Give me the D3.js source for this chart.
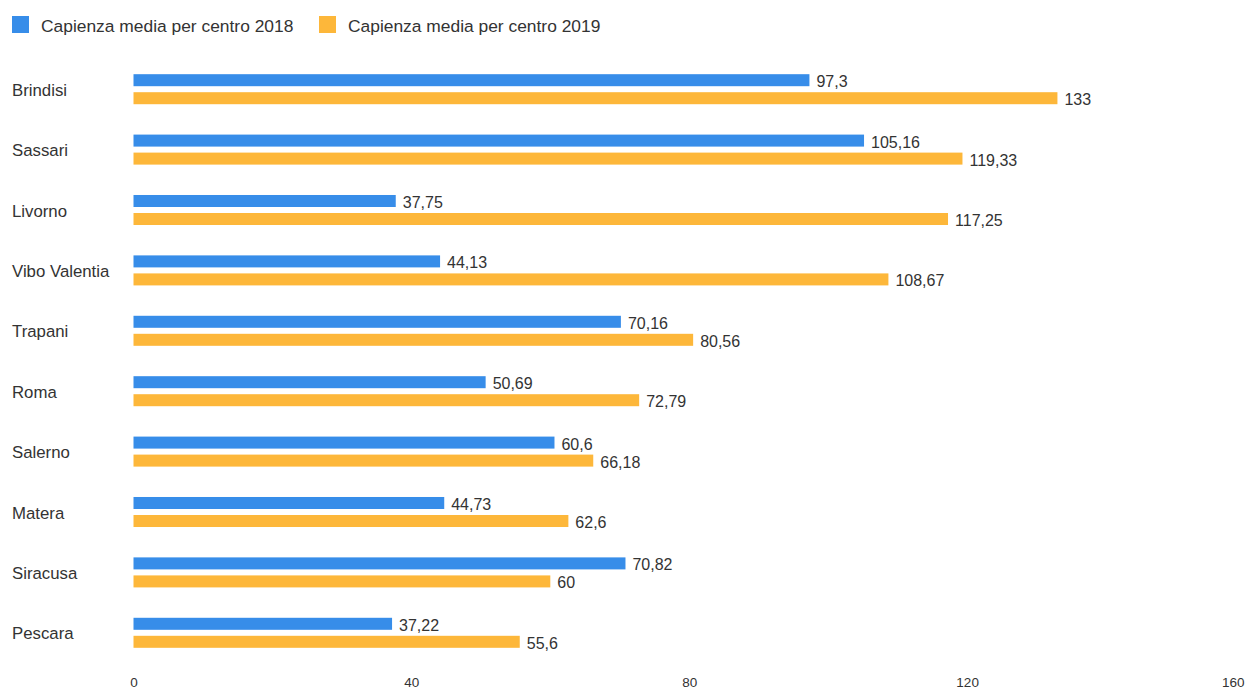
<script src="https://d3js.org/d3.v7.min.js"></script>
<style>
  body { margin: 0; background: #fff; }
  text { font-family: 'Liberation Sans', Arial, sans-serif; fill: #333; }
</style>
<div id="vis"></div>
<script>
  var cities = ['Brindisi', 'Sassari', 'Livorno', 'Vibo Valentia', 'Trapani', 'Roma', 'Salerno', 'Matera', 'Siracusa', 'Pescara'];
  var val2018 = [97.3, 105.16, 37.75, 44.13, 70.16, 50.69, 60.6, 44.73, 70.82, 37.22];
  var val2019 = [133, 119.33, 117.25, 108.67, 80.56, 72.79, 66.18, 62.6, 60, 55.6];
  var seriesNames = ['Capienza media per centro 2018', 'Capienza media per centro 2019'];
  var xTicks = [0, 40, 80, 120, 160];

  var colors = ['#378de9', '#fdb73a'];
  var W = 1245, H = 689;

  var svg = d3.select('#vis').append('svg')
    .attr('width', W).attr('height', H);

  var data = cities.map(function(c, i) {
    return { city: c, values: [val2018[i], val2019[i]] };
  });

  var x = d3.scaleLinear().domain([0, 160]).range([133.5, 1245]);

  var y = d3.scaleBand().domain(cities).range([59, 663])
    .paddingInner(0.503).paddingOuter(0.2515);

  var ySub = d3.scaleBand().domain([0, 1]).range([0, y.bandwidth()])
    .paddingInner(1 / 3);

  var fmt = function(v) { return String(v).replace('.', ','); };

  // legend
  var legend = svg.append('g');
  var legX = [12, 319];
  seriesNames.forEach(function(name, i) {
    legend.append('rect')
      .attr('x', legX[i]).attr('y', 16)
      .attr('width', 17).attr('height', 17)
      .style('fill', colors[i]);
    legend.append('text')
      .attr('x', legX[i] + 29).attr('y', 32)
      .style('font-size', '17.4px')
      .text(name);
  });

  // category labels
  svg.append('g').selectAll('text')
    .data(cities)
    .enter().append('text')
    .attr('x', 12)
    .attr('y', function(d) { return y(d) + y.bandwidth() / 2 + 6.5; })
    .style('font-size', '16.8px')
    .text(function(d) { return d; });

  var groups = svg.append('g').selectAll('g')
    .data(data)
    .enter().append('g')
    .attr('transform', function(d) { return 'translate(0,' + y(d.city) + ')'; });

  groups.selectAll('rect')
    .data(function(d) { return d.values; })
    .enter().append('rect')
    .attr('x', x(0))
    .attr('y', function(d, i) { return ySub(i); })
    .attr('width', function(d) { return x(d) - x(0); })
    .attr('height', ySub.bandwidth())
    .style('fill', function(d, i) { return colors[i]; });

  groups.selectAll('text')
    .data(function(d) { return d.values; })
    .enter().append('text')
    .attr('x', function(d) { return x(d) + 7; })
    .attr('y', function(d, i) { return ySub(i) + ySub.bandwidth() + 1; })
    .style('font-size', '16px')
    .text(fmt);

  // x axis
  var axis = svg.append('g')
    .attr('transform', 'translate(0,687)')
    .call(d3.axisBottom(x).tickValues(xTicks).tickSize(0).tickPadding(0));
  axis.select('.domain').remove();
  axis.selectAll('text')
    .style('font-size', '13.5px')
    .style('font-family', "'Liberation Sans', Arial, sans-serif")
    .attr('fill', '#333')
    .attr('dy', 0);
  axis.selectAll('.tick').filter(function(d) { return d === 160; })
    .select('text').attr('text-anchor', 'end').attr('dx', '-1');
</script>
